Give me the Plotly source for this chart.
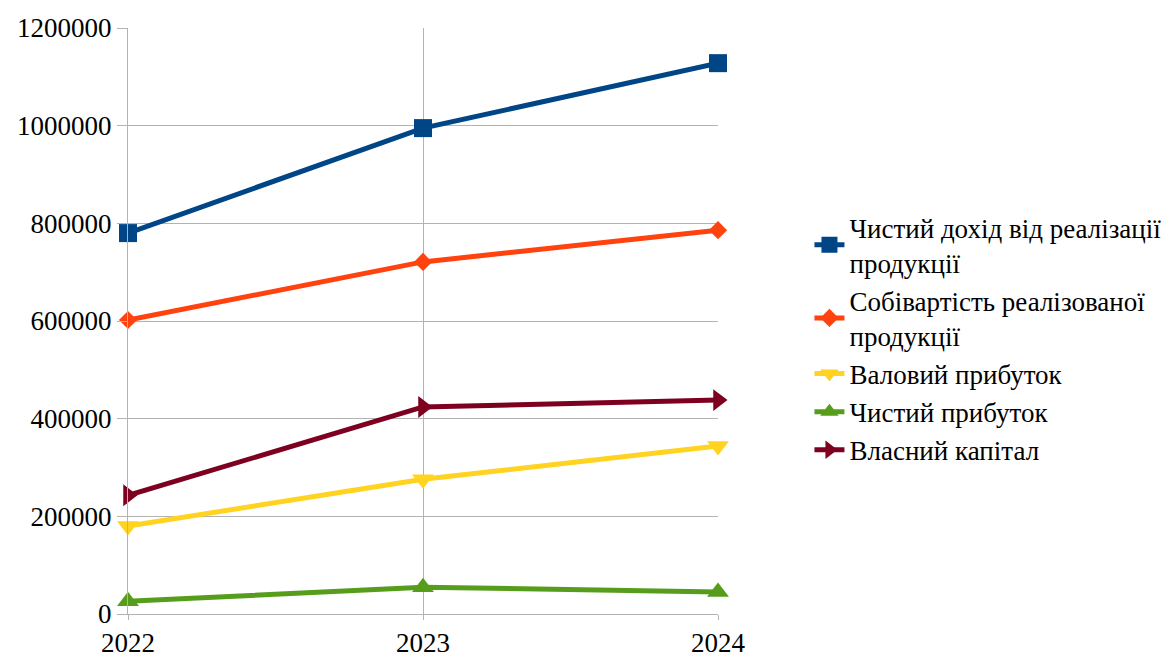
import plotly.graph_objects as go

years = ["2022", "2023", "2024"]
names = [
    "Чистий дохід від реалізації<br>продукції",
    "Собівартість реалізованої<br>продукції",
    "Валовий прибуток",
    "Чистий прибуток",
    "Власний капітал",
]
net_revenue = [780000, 995000, 1128000]
cost_of_sales = [602000, 721000, 786000]
gross_profit = [180000, 276000, 344000]
net_profit = [26000, 55000, 45000]
equity = [243000, 424000, 438000]

series = [net_revenue, cost_of_sales, gross_profit, net_profit, equity]
colors = ["#004586", "#ff420e", "#ffd320", "#579d1c", "#7e0021"]
symbols = ["square", "diamond", "triangle-down", "triangle-up", "triangle-right"]
sizes = [18, 14, 19, 19, 19]

fig = go.Figure()
for name, vals, c, s, sz in zip(names, series, colors, symbols, sizes):
    fig.add_trace(go.Scatter(
        x=years, y=vals, name=name, mode="lines+markers",
        line=dict(color=c, width=5),
        marker=dict(symbol=s, size=sz, color=c),
        cliponaxis=False,
    ))

FONT = "Liberation Serif"
fig.add_annotation(x=1.1, y=1.0, xref="paper", yref="paper", text="Чистий 2022",
                   showarrow=False, xanchor="left",
                   font=dict(family=FONT, size=27, color="rgba(255,255,255,0)"))

fig.update_layout(
    width=1171, height=659,
    margin=dict(l=128, r=453, t=28, b=45, autoexpand=False),
    paper_bgcolor="white", plot_bgcolor="white",
    showlegend=True,
    legend=dict(x=1.155, xanchor="left", y=0.47, yanchor="middle",
                font=dict(family=FONT, size=27, color="black"),
                tracegroupgap=0),
    xaxis=dict(type="category", range=[0, 2], showgrid=True, gridcolor="#b3b3b3",
               gridwidth=1, showline=True, linecolor="#b3b3b3", ticks="outside",
               ticklen=5, tickcolor="#b3b3b3", zeroline=False, automargin=False,
               tickfont=dict(family=FONT, size=27, color="black")),
    yaxis=dict(range=[0, 1200000], dtick=200000, tickformat="d",
               showgrid=True, gridcolor="#b3b3b3", gridwidth=1,
               showline=True, linecolor="#b3b3b3", ticks="outside",
               ticklen=10, tickcolor="#b3b3b3", zeroline=False, automargin=False,
               tickfont=dict(family=FONT, size=27, color="black")),
)

fig.write_html("out.html")
